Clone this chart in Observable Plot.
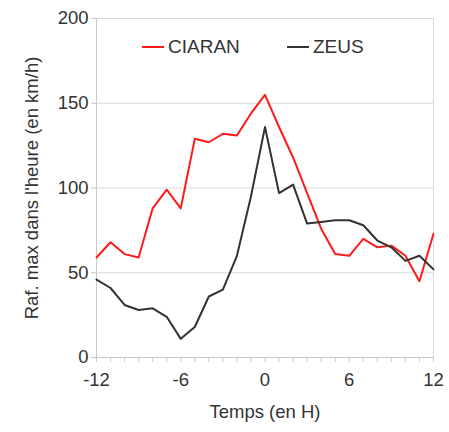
<!DOCTYPE html>
<html>
<head>
<meta charset="utf-8">
<script src="https://cdn.jsdelivr.net/npm/d3@7"></script>
<script src="https://cdn.jsdelivr.net/npm/@observablehq/plot@0.6"></script>
<style>
  html, body { margin: 0; padding: 0; background: #fff; }
  #wrap { position: relative; width: 449px; height: 432px; font-family: "Liberation Sans", Arial, sans-serif; }
  #legend { position: absolute; top: 35px; left: 0; width: 449px; height: 24px; font-size: 19px; color: #333; }
  .item { position: absolute; display: flex; align-items: center; height: 24px; }
  .sw { width: 22px; height: 2px; margin-right: 4px; }
</style>
</head>
<body>
<div id="wrap"><div id="legend"></div></div>
<script>
const hours = d3.range(-12, 13);
const seriesNames = ["CIARAN", "ZEUS"];
const seriesColors = ["#ff1a1a", "#333333"];
const ciaran = [59, 68, 61, 59, 88, 99, 88, 129, 127, 132, 131, 144, 155, 136, 118, 97, 76, 61, 60, 70, 65, 66, 60, 45, 73];
const zeus   = [46, 41, 31, 28, 29, 24, 11, 18, 36, 40, 60, 95, 136, 97, 102, 79, 80, 81, 81, 78, 69, 65, 57, 60, 52];
const yTicks = [0, 50, 100, 150, 200];
const xTicks = [-12, -6, 0, 6, 12];

const data = [];
hours.forEach((h, i) => {
  data.push({hour: h, value: ciaran[i], series: seriesNames[0]});
  data.push({hour: h, value: zeus[i], series: seriesNames[1]});
});

const chart = Plot.plot({
  width: 449,
  height: 432,
  marginLeft: 96,
  marginRight: 16,
  marginTop: 18,
  marginBottom: 75,
  style: {fontFamily: "Liberation Sans, Arial, sans-serif", fontSize: "18.5px", color: "#333", background: "#fff"},
  x: {domain: [-12, 12]},
  y: {domain: [0, 200]},
  color: {domain: seriesNames, range: seriesColors},
  marks: [
    Plot.gridY(yTicks, {stroke: "#d9d9d9", strokeOpacity: 1, strokeWidth: 1}),
    Plot.ruleX([12], {stroke: "#d9d9d9", strokeWidth: 1}),
    Plot.ruleX([-12], {stroke: "#c8c8c8", strokeWidth: 1}),
    Plot.ruleY([0], {stroke: "#c8c8c8", strokeWidth: 1}),
    Plot.axisY(yTicks, {tickSize: 5, tickPadding: 3, stroke: "#c8c8c8", fill: "#333", fontSize: 18.5, label: "Raf. max dans l'heure (en km/h)", labelAnchor: "center", labelArrow: "none", labelOffset: 72}),
    Plot.axisX(hours, {tickSize: 5, stroke: "#c8c8c8", text: null, label: null}),
    Plot.axisX(xTicks, {tickSize: 0, tickPadding: 15, fill: "#333", fontSize: 18.5, tickFormat: d => String(d), label: "Temps (en H)", labelAnchor: "center", labelArrow: "none", labelOffset: 60}),
    Plot.line(data, {x: "hour", y: "value", stroke: "series", strokeWidth: 2, curve: "linear"})
  ]
});
document.getElementById("wrap").prepend(chart);

const legend = document.getElementById("legend");
const lefts = [142, 287];
seriesNames.forEach((name, i) => {
  const it = document.createElement("div");
  it.className = "item";
  it.style.left = lefts[i] + "px";
  it.innerHTML = `<span class="sw" style="background:${seriesColors[i]}"></span><span>${name}</span>`;
  legend.appendChild(it);
});
</script>
</body>
</html>
